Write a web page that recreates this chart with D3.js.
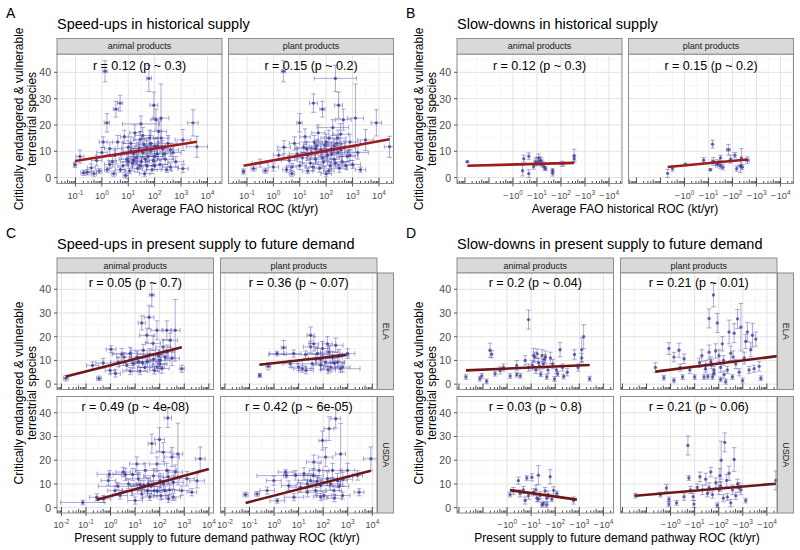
<!DOCTYPE html>
<meta charset="utf-8">
<style>
  body { margin: 0; background: #fff; }
  text { font-family: "Liberation Sans", Arial, sans-serif; }
</style>
<script src="https://d3js.org/d3.v7.min.js"></script>
<div id="chart"></div>
<script>
// ---------- data (x = log10 of |ROC| in kt/yr, y = species, dx = x half-error in decades, dy = y half-error) ----------
const yTicks = [0, 10, 20, 30, 40];
const yDomain = [-2.25, 46.85];
const products = ["animal products", "plant products"];
const sources = ["ELA", "USDA"];

const histUpAnimal = [[-1.02,4.9,.05,1],[-0.83,8,.15,2.5],[-0.7,1.8,.1,1],[-0.55,2,.1,1],[-0.4,3.7,.15,1.5],[-0.3,1.5,.1,1],[-0.2,6.5,.2,2],[-0.1,2.5,.1,1],[0,9.5,.2,2],[0.05,13.5,.15,2],[0.12,40.4,.08,4],[0.19,20.8,.1,3.5],[0.2,3,.1,1],[0.3,11,.2,2.5],[0.4,6,.15,2],[0.45,1.5,.1,1],[0.53,26,.1,3],[0.6,13.5,.2,2.5],[0.69,28.3,.1,3],[0.75,9,.25,2],[0.8,4.5,.2,1.5],[0.85,15.5,.15,2.5],[0.95,7,.3,2],[1,11.5,.25,2.5],[1.05,2.5,.2,1],[1.1,13,.3,2.5],[1.15,5.5,.2,1.5],[1.2,9,.35,2],[1.25,17,.2,3],[1.3,7.5,.3,2],[1.35,3.5,.2,1.5],[1.4,11,.3,2.5],[1.45,14.5,.25,3],[1.48,20.4,.7,3],[1.5,6,.3,2],[1.55,9.5,.35,2],[1.6,12.5,.3,2.5],[1.62,1.5,.2,1],[1.7,4.5,.3,1.5],[1.75,8,.4,2],[1.78,37.7,.1,5],[1.8,15,.3,3],[1.85,10.5,.35,2.5],[1.9,3,.2,1.5],[1.95,6.5,.3,2],[1.97,27.5,.15,5],[2,12,.4,3],[2.05,22,.2,4],[2.1,9,.3,2],[2.15,17.5,.3,4],[2.2,5,.3,2],[2.24,22.6,.3,13],[2.3,11,.4,3],[2.4,7,.3,2],[2.5,13,.35,3],[2.6,4,.3,1.5],[2.7,9.5,.3,2.5],[3.07,14.3,.3,4],[3.07,3.4,.2,1.5],[3.45,20.8,.2,5],[3.6,11.7,.4,4],[2.8,6,.3,2],[0.9,0.8,.1,1],[1.3,10,.3,2],[1.7,11.5,.3,2.5],[2.0,8,.3,2],[1.2,6.5,.3,1.5],[0.5,8.5,.2,2],[0.7,3,.2,1],[1.0,6,.3,1.5],[1.45,4.5,.3,1.5],[1.55,16,.3,3],[1.65,7,.3,2],[1.85,13,.3,3],[2.0,4.5,.3,1.5],[2.1,12,.3,3],[2.35,9,.3,2],[2.45,3,.2,1],[1.1,10,.3,2],[0.3,5,.2,1.5],[2.25,15,.3,3],[2.6,10.5,.3,2.5]];
const histUpPlant = [[-1.13,2.3,.05,1],[-0.75,3.4,.1,1],[-0.3,2.6,.1,1],[-0.5,5.5,.3,1.5],[0,4,.2,1.5],[0.2,8.5,.2,2],[0.38,40.4,.08,4],[0.4,11.5,.25,2.5],[0.5,3,.15,1],[0.6,6.5,.3,2],[0.7,1.5,.1,1],[0.8,13,.2,2.5],[0.9,9,.3,2],[0.99,20.8,.1,3.5],[1,4.5,.25,1.5],[1.1,7.5,.3,2],[1.2,15.5,.2,3],[1.25,11,.35,2.5],[1.3,2.5,.2,1],[1.4,5.5,.3,1.5],[1.45,9.5,.4,2],[1.52,28.3,.15,3.5],[1.55,13.5,.3,2.5],[1.6,7,.35,2],[1.7,17,.25,3],[1.75,3.5,.2,1.5],[1.8,10.5,.4,2.5],[1.86,26,.1,3],[1.9,6,.3,2],[1.95,12.5,.4,3],[2,1.5,.2,1],[2.05,8.5,.35,2],[2.1,15,.3,3],[2.15,4.5,.3,1.5],[2.2,11,.4,2.5],[2.25,19,.6,3],[2.3,7,.3,2],[2.35,37.7,.8,5],[2.4,13,.35,3],[2.45,9.5,.4,2],[2.47,27.5,.15,5],[2.5,3.5,.3,1.5],[2.55,16.5,.3,4],[2.6,6,.3,2],[2.65,22,.3,4],[2.7,11.5,.4,2.5],[2.8,8,.3,2],[2.9,13.5,.4,3],[3,5,.3,1.5],[3.11,22.6,.3,13],[3.2,9.5,.4,2.5],[3.3,3,.2,1],[3.49,14.3,.3,4],[3.9,20.8,.2,5],[4.4,11.7,.2,4],[2.0,10,.3,2],[2.3,12,.3,2.5],[1.6,11,.3,2],[1.3,8.5,.3,2],[1.5,4,.3,1.5],[1.65,12,.3,2.5],[1.85,7.5,.3,2],[2.0,13.5,.3,3],[2.2,9,.4,2],[2.35,5.5,.3,1.5],[2.55,10.5,.3,2.5],[2.75,4.5,.3,1.5],[2.9,8.5,.3,2],[1.15,11.5,.3,2],[0.7,4,.2,1.5],[2.1,2.5,.2,1],[2.45,15,.3,3]];
const histDownAnimal = [[-1.9,6,0,0.3],[0.4,2.6,0,2],[0.45,7.2,0,1.3],[0.66,8.1,0,1.3],[0.66,1.5,0,1.5],[0.86,4.2,0,1],[0.95,6,.08,1.5],[1.07,7.5,.1,1.5],[1.15,6.5,.1,1.2],[1.23,5,.08,1],[1.3,3.9,0,1],[1.36,3.4,0,.8],[1.65,1.6,0,1],[1.65,2.7,0,.8],[2.06,5.2,.1,1],[2.55,8.3,0,2.5],[2.55,7.2,0,1],[1.1,5.5,.1,1]];
const histDownPlant = [[-0.7,1.6,0,1.5],[-0.5,3.4,0,1],[0.04,5,0,.5],[0.8,6.6,0,1],[1.08,3,0,.4],[1.17,12.7,0,1.5],[1.2,6.2,.08,1.5],[1.37,5,.08,1],[1.5,7.5,0,1],[1.5,4.5,0,1],[1.6,3.9,0,1],[1.83,10.6,.08,2],[1.92,7,0,1.5],[2.17,3.4,0,1],[2.33,4.4,.1,2.5],[2.37,7.5,0,3.5],[2.62,6.6,.08,1.3],[2.4,3.9,0,1],[2.1,8.5,0,1],[1.4,5.8,0,1]];

const futUpElaAnimal = [[-1.82,2.5,.1,1.2],[-0.73,7.9,.25,1.5],[-0.47,2.4,.1,1],[-0.3,8.9,.3,2],[0.02,14.7,.2,1.5],[-0.02,5.8,.2,1.5],[0.31,9.3,.3,2],[0.46,12.6,.4,2.5],[0.55,11.4,.3,2],[0.66,7.9,.3,2],[0.8,13,.7,2.5],[0.92,8.7,.4,2],[1.07,11.4,.3,2.5],[1.27,25.8,.15,3],[1.33,14.3,.5,2.5],[1.48,20.6,.3,3],[1.57,28.2,.2,5],[1.68,37.6,.1,5],[1.73,17.2,.3,3],[1.78,5.8,.2,1.5],[1.89,22.7,.25,4],[2.02,10,.4,2.5],[2.09,6.6,.3,2],[2.14,15.7,.3,3],[2.22,11.4,.4,3],[2.29,22.7,.2,4],[2.43,18.5,.3,3],[2.5,10.9,.3,3],[2.63,22.7,.2,13],[2.9,6.5,.1,1.5],[1.2,5.5,.3,1.5],[1.4,7,.3,1.5],[1.5,9.5,.4,2],[1.9,7.3,.3,2],[1.95,12,.4,2.5],[1.3,9,.3,2],[0.2,4.5,.2,1.5],[0.8,5.5,.3,1.5],[1.15,9.5,.3,2],[1.6,12.5,.5,2.5],[2.3,13.5,.3,3],[1.75,10.5,.3,2.5],[2,8.5,.3,2]];
const futUpElaPlant = [[-0.58,3.7,.05,.8],[-0.23,7.5,.1,1.5],[0.12,12.9,.3,1],[0.39,15.4,.1,3],[0.66,8.6,.3,1.5],[0.8,12.9,.3,1.5],[1,7.2,.3,1.5],[1.15,6.5,.35,1.5],[1.28,12.5,1.5,1.5],[1.49,15.7,.3,2.5],[1.55,8.6,.4,2],[1.49,20.6,.15,3.5],[1.62,17,.2,3],[1.76,12.9,.4,2.5],[1.9,10.7,.5,2.5],[1.97,15,.3,3],[2.1,9.3,.4,2],[2.17,17,.2,3],[2.24,13.5,.35,2.5],[2.31,7.2,.3,2],[2.38,11.4,.4,2.5],[2.51,16.4,.3,3],[2.58,9.3,.3,2],[2.65,12.1,.4,2.5],[2.79,7.2,.3,2],[2.99,12.9,.3,2],[2.45,8.8,.4,2],[1.9,8,.3,2],[1.7,10.5,.3,2],[1.3,5.8,.3,1.5],[2.2,6,.3,1.5],[2.7,6.5,.8,1.5]];
const futUpUsdaAnimal = [[-1.13,2.2,.9,1],[-0.56,4.4,.3,1.5],[-0.29,3.7,.3,1.5],[-0.09,11.4,.3,2],[-0.05,14.1,.5,1.5],[0.18,7.2,.3,2],[0.39,5.1,.3,1.5],[0.52,15,.3,2],[0.6,14,.5,2.5],[0.73,10,.5,2],[0.87,7.2,.4,2],[1.07,18.4,.3,3],[1.13,12.2,.5,2.5],[1.27,5.8,.4,2],[1.41,15.7,.4,3],[1.54,10,.5,2.5],[1.68,27,.15,4],[1.75,13.4,.4,3],[1.78,7.2,.4,2],[1.89,18.4,.3,3],[1.99,28.7,.2,5],[2.02,11.4,.5,3],[2.15,23.4,.3,4],[2.22,7.2,.3,2],[2.29,15.7,.4,3],[2.33,37.8,.15,4],[2.36,3.7,.3,1.5],[2.5,21.3,.3,4],[2.56,10.7,.4,3],[2.63,15,.3,3],[2.74,22.6,.2,13],[2.9,7.2,.3,2],[3.11,12.2,.3,3],[3.31,6.5,.2,1.5],[3.52,11.3,.3,3],[3.65,20.6,.2,5],[0.9,14,.3,2.5],[1.2,9.5,.4,2],[1.5,7,.4,2],[1.6,4.5,.3,1.5],[1.9,7,.4,2],[2.05,5,.3,1.5],[2.4,7.5,.4,2],[2.55,4.5,.3,1.5],[1.65,9,.4,2],[1.35,9.5,.4,2],[2.15,10,.4,2.5],[2.35,13,.4,3],[0.3,9,.8,1.5],[1,3,.3,1.5]];
const futUpUsdaPlant = [[-1.16,5.5,.1,1],[-0.69,5.8,.1,1],[-0.28,7.2,.3,1.5],[-0.01,11.4,.3,2],[0.13,2.9,.3,1],[0.47,15,.3,1],[0.6,9.3,.3,2],[0.81,4.4,.4,1.5],[0.88,13.6,.5,2],[1.08,8.6,.5,2],[1.22,14.3,.4,2.5],[1.36,6.5,.4,2],[1.49,11.4,.5,2.5],[1.62,19.2,.3,3],[1.69,7.2,.4,2],[1.83,15.7,.4,3],[1.9,9.3,.5,2.5],[1.97,28.3,.15,4],[2.03,5.1,.3,1.5],[2.1,21.3,.3,4],[2.17,12.2,.4,3],[2.24,33.3,.2,5],[2.38,15.7,.4,3],[2.44,7.2,.3,2],[2.51,37.5,.2,4],[2.58,11.4,.4,3],[2.71,22.6,.2,13],[2.79,5.1,.3,1.5],[2.99,15.7,.3,3],[3.4,13.6,.2,2],[3.46,6.5,.2,1.5],[3.94,20.6,.3,5],[1.75,11,.4,2.5],[2.3,10,.4,2.5],[2.65,9,.4,2],[1.9,4.5,.3,1.5],[2.45,4,.3,1.5],[1.35,10,.4,2],[2.8,12,.4,3],[1.6,13.5,.4,3],[0.5,13.5,1.2,1]];

const futDownElaAnimal = [[-1.71,3,0,1],[-1.13,2.3,0,1],[-1.05,3.5,0,1],[-0.85,1.2,0,1],[-0.71,14.3,0,3],[-0.64,12.6,0,1.5],[-0.5,4.4,0,1],[-0.29,5.8,0,1.5],[-0.15,7,0,1.5],[0.13,3.4,0,1],[0.4,7.9,0,2],[0.4,4,0,1],[0.55,3.5,0,1],[0.75,10,0,2],[0.89,27.2,0,4],[0.89,7,0,1.5],[1.05,8,0,2],[1.1,12.1,0,3],[1.15,11.5,0,2],[1.2,6,0,1.5],[1.3,9,0,2],[1.4,4.2,0,1],[1.45,12,0,2.5],[1.5,8.5,0,2],[1.6,11.5,0,2.5],[1.65,3,0,1],[1.7,6,0,1.5],[1.8,11,0,2.5],[1.9,8.5,0,2],[1.97,2.2,0,1],[2.05,6,0,1.5],[2.1,4.3,0,1],[2.2,14.5,0,3],[2.3,7,0,1.5],[2.35,3.2,0,1],[2.5,5,0,1.5],[2.8,12.5,0,2],[3.1,14.5,0,5],[3.18,20,0,5],[3.1,11,0,2],[3.43,2.3,0,1],[2.95,7,0,1.5],[1.25,12.8,0,2],[1.55,10.5,0,2],[1.35,7.5,0,1.5]];
const futDownElaPlant = [[-0.63,7,0,2],[-0.28,2.7,0,1],[-0.07,15,0,2.5],[0.14,11.4,0,2],[0.14,1.6,0,1],[0.4,7,0,1.5],[0.35,14.3,0,3],[0.5,3,0,1],[0.56,10.7,0,2],[0.8,6,0,1.5],[1,3,0,1],[1.2,9,0,2],[1.3,12,0,2.5],[1.45,6.5,0,1.5],[1.55,3.2,0,1],[1.6,13.5,0,3],[1.7,8.5,0,2],[1.8,4.5,0,1],[1.6,27.7,0,4],[1.78,37.6,0,5],[1.94,25.8,0,4],[2.01,12,0,2.5],[2.08,7,0,2],[2.15,17,0,3],[2.22,4,0,1.5],[2.29,1,0,1],[2.43,22,0,5],[2.5,13,0,3],[2.64,21.5,0,4],[2.71,8.5,0,2],[2.78,27.5,0,4],[2.85,5,0,1.5],[2.92,24,0,10],[3.06,11,0,2.5],[3.12,18,0,3],[3.19,22,0,4],[3.26,6,0,1.5],[3.33,14.5,0,3],[3.4,20.6,0,5],[3.47,6.5,0,1.5],[3.54,19,0,3],[3.68,7.5,0,2],[3.75,2.5,0,1],[1.39,3,0,1],[1.46,8,0,2],[1.67,9.5,0,2],[1.8,6,0,1.5],[1.87,14,0,3],[1.74,3,0,1],[2.08,2,0,1],[2.36,6,0,1.5],[2.57,3,0,1],[2.99,1.5,0,1],[2.2,10,0,2],[2.6,11.5,0,2.5]];
const futDownUsdaAnimal = [[0.12,5.5,0,1],[0.26,7,0,1.5],[0.47,11.4,0,1.5],[0.54,6,0,1.5],[0.68,7.5,0,1.5],[0.75,3,0,1.5],[0.82,12.5,0,1],[0.89,5,0,1.5],[1.03,12.8,0,1.5],[1.1,6.5,0,1.5],[1.24,4,0,1.5],[1.3,13.7,0,4],[1.38,5.2,0,1.5],[1.51,1.7,0,1],[1.58,7,0,1.5],[1.65,4,0,1.5],[1.79,13,0,3],[1.86,3.5,0,1],[1.93,7.3,0,1.5],[2.07,6,0,1],[1.3,3.5,0,1],[1.45,1.2,0,1],[1.65,1.2,0,1],[2.76,3,0,1.5],[1.2,7.5,0,2],[1.7,5.5,0,1.5]];
const futDownUsdaPlant = [[-1.46,5.1,0,1],[-0.42,5.5,0,1],[-0.17,8.3,0,1.5],[-0.07,3.5,0,1],[-0.07,1.5,0,1],[0.25,2,0,1],[0.56,4.6,0,1.5],[0.72,26.2,0,4],[0.76,12.5,0,1],[0.83,7.5,0,1.5],[0.94,4.6,0,1.5],[0.97,1.5,0,1.5],[1.11,8.5,0,1.5],[1.22,13,0,2],[1.32,7.5,0,2],[1.46,12,0,2.5],[1.53,6,0,1.5],[1.67,15,0,2],[1.74,5.5,0,1.5],[1.88,10.5,0,2],[1.94,1,0,1],[2.01,7.5,0,2],[2.05,13.5,0,3],[2.1,20,0,8],[2.19,4,0,1.5],[2.25,27.5,0,4],[2.33,11.5,0,2.5],[2.43,14.5,0,3],[2.5,2,0,1.5],[2.57,7.5,0,2],[2.64,20.3,0,5],[2.71,5,0,1.5],[2.78,10,0,2],[2.92,7.5,0,2],[3.12,3,0,1],[4.375,11.5,0,4],[1.6,8.5,0,2],[2.08,9,0,2],[2.36,4.5,0,1.5],[2.85,8.5,0,2]];

// fitted regression lines: [x0 (log10), y0, x1 (log10), y1]
const histUpFits = [[-1.02,6.3,3.6,13.6],[-1.13,4.5,4.4,14.6]];
const histDownFits = [[-1.9,4.5,2.55,5.6],[-0.7,4.0,2.62,6.9]];
const futUpFits = [[-1.82,3.2,2.9,15.6],[-0.6,8.2,2.95,12.3],[-0.56,3.3,4.0,16.3],[-1.16,2.0,3.94,15.6]];
const futDownFits = [[-1.71,5.8,3.43,8.1],[-0.63,5.3,4.42,11.8],[0.12,7.4,2.9,3.4],[-1.46,5.0,4.375,10.1]];

const histUpNotes = ["r = 0.12 (p ~ 0.3)", "r = 0.15 (p ~ 0.2)"];
const histDownNotes = ["r = 0.12 (p ~ 0.3)", "r = 0.15 (p ~ 0.2)"];
const futUpNotes = ["r = 0.05 (p ~ 0.7)", "r = 0.36 (p ~ 0.07)", "r = 0.49 (p ~ 4e-08)", "r = 0.42 (p ~ 6e-05)"];
const futDownNotes = ["r = 0.2 (p ~ 0.04)", "r = 0.21 (p ~ 0.01)", "r = 0.03 (p ~ 0.8)", "r = 0.21 (p ~ 0.06)"];

const histUpExps = [-1, 0, 1, 2, 3, 4];
const futUpExps = [-2, -1, 0, 1, 2, 3, 4];
const downExps = [0, 1, 2, 3, 4];

const yTitle = ["Critically endangered & vulnerable", "terrestrial species"];
// ---------------------------------------------------------------------------

const svg = d3.select("#chart").append("svg")
    .attr("width", 800).attr("height", 550);
svg.append("rect").attr("width", 800).attr("height", 550).attr("fill", "#fff");

let clipId = 0;

function drawPanel(o) {
  const x = d3.scaleLog().domain([10 ** o.xd[0], 10 ** o.xd[1]]).range([o.left, o.left + o.w]);
  const y = d3.scaleLinear().domain(yDomain).range([o.top + o.h, o.top]);
  const g = svg.append("g");
  const bottom = o.top + o.h;

  g.append("rect").attr("x", o.left).attr("y", o.top).attr("width", o.w).attr("height", o.h).attr("fill", "#fff");

  // minor grid
  const minorX = d3.range(Math.floor(o.xd[0]) - 0.5, o.xd[1], 1).filter(e => e > o.xd[0] && e < o.xd[1]);
  g.selectAll(null).data(minorX).join("line")
    .attr("x1", e => x(10 ** e)).attr("x2", e => x(10 ** e))
    .attr("y1", o.top).attr("y2", bottom)
    .attr("stroke", "#f0f0f0").attr("stroke-width", 0.6);
  g.selectAll(null).data([5, 15, 25, 35, 45]).join("line")
    .attr("x1", o.left).attr("x2", o.left + o.w)
    .attr("y1", d => y(d)).attr("y2", d => y(d))
    .attr("stroke", "#f0f0f0").attr("stroke-width", 0.6);
  // major grid
  g.selectAll(null).data(o.exps).join("line")
    .attr("x1", e => x(10 ** e)).attr("x2", e => x(10 ** e))
    .attr("y1", o.top).attr("y2", bottom)
    .attr("stroke", "#e3e3e3").attr("stroke-width", 1);
  g.selectAll(null).data(yTicks).join("line")
    .attr("x1", o.left).attr("x2", o.left + o.w)
    .attr("y1", d => y(d)).attr("y2", d => y(d))
    .attr("stroke", "#e3e3e3").attr("stroke-width", 1);

  // clipped marks
  const id = "clip" + (clipId++);
  svg.append("clipPath").attr("id", id).append("rect")
    .attr("x", o.left).attr("y", o.top).attr("width", o.w).attr("height", o.h);
  const m = g.append("g").attr("clip-path", `url(#${id})`);
  const cap = 2.3;
  const eb = m.append("g").attr("stroke", "#4a45a6").attr("stroke-opacity", 0.45).attr("stroke-width", 1).attr("fill", "none");
  o.data.forEach(d => {
    const cx = x(10 ** d[0]), cy = y(d[1]);
    if (d[2] > 0) {
      const xa = x(10 ** (d[0] - d[2])), xb = x(10 ** (d[0] + d[2]));
      eb.append("line").attr("x1", xa).attr("x2", xb).attr("y1", cy).attr("y2", cy);
      eb.append("line").attr("x1", xa).attr("x2", xa).attr("y1", cy - cap).attr("y2", cy + cap);
      eb.append("line").attr("x1", xb).attr("x2", xb).attr("y1", cy - cap).attr("y2", cy + cap);
    }
    if (d[3] > 0) {
      const ya = y(d[1] - d[3]), yb = y(d[1] + d[3]);
      eb.append("line").attr("x1", cx).attr("x2", cx).attr("y1", ya).attr("y2", yb);
      eb.append("line").attr("x1", cx - cap).attr("x2", cx + cap).attr("y1", ya).attr("y2", ya);
      eb.append("line").attr("x1", cx - cap).attr("x2", cx + cap).attr("y1", yb).attr("y2", yb);
    }
  });
  m.append("g").selectAll("circle").data(o.data).join("circle")
    .attr("cx", d => x(10 ** d[0])).attr("cy", d => y(d[1])).attr("r", 1.7)
    .attr("fill", "#33308f").attr("fill-opacity", 0.7);
  m.append("line")
    .attr("x1", x(10 ** o.fit[0])).attr("y1", y(o.fit[1]))
    .attr("x2", x(10 ** o.fit[2])).attr("y2", y(o.fit[3]))
    .attr("stroke", o.fitColor).attr("stroke-width", 2.6).attr("stroke-linecap", "butt");

  // log ticks inside the bottom edge
  const lt = [];
  for (let dd = Math.floor(o.xd[0]); dd <= Math.ceil(o.xd[1]); dd++) {
    for (let k = 1; k <= 9; k++) {
      const e = dd + Math.log10(k);
      if (e >= o.xd[0] && e <= o.xd[1]) lt.push({ e, len: k === 1 ? 6 : (k === 5 ? 4 : 2.5) });
    }
  }
  g.selectAll(null).data(lt).join("line")
    .attr("x1", d => x(10 ** d.e)).attr("x2", d => x(10 ** d.e))
    .attr("y1", bottom).attr("y2", d => bottom - d.len)
    .attr("stroke", "#222").attr("stroke-width", 0.8);

  g.append("rect").attr("x", o.left).attr("y", o.top).attr("width", o.w).attr("height", o.h)
    .attr("fill", "none").attr("stroke", "#8c8c8c").attr("stroke-width", 1);

  // correlation note
  g.append("text").attr("x", o.left + o.w / 2).attr("y", y(42.5))
    .attr("text-anchor", "middle").attr("dominant-baseline", "central")
    .attr("font-size", 12.5).attr("fill", "#000").text(o.note);

  // y axis
  if (o.yAxis) {
    g.selectAll(null).data(yTicks).join("line")
      .attr("x1", o.left - 3).attr("x2", o.left).attr("y1", d => y(d)).attr("y2", d => y(d))
      .attr("stroke", "#333").attr("stroke-width", 0.8);
    g.selectAll(null).data(yTicks).join("text")
      .attr("x", o.left - 6).attr("y", d => y(d))
      .attr("text-anchor", "end").attr("dominant-baseline", "central")
      .attr("font-size", 10.5).attr("fill", "#4d4d4d").text(d => d);
  }
  // x axis
  if (o.xAxis) {
    g.selectAll(null).data(o.exps).join("line")
      .attr("x1", e => x(10 ** e)).attr("x2", e => x(10 ** e))
      .attr("y1", bottom).attr("y2", bottom + 3)
      .attr("stroke", "#333").attr("stroke-width", 0.8);
    const lab = g.selectAll(null).data(o.exps).join("text")
      .attr("x", e => x(10 ** e)).attr("y", bottom + 15)
      .attr("text-anchor", "middle").attr("fill", "#4d4d4d").attr("font-size", 9.2);
    lab.append("tspan").text(o.neg ? "\u2212\u200a10" : "10");
    lab.append("tspan").attr("dy", -4).attr("font-size", 6.5).text(e => e < 0 ? "-" + (-e) : e);
  }
}

function strip(x0, y0, w, h, label, vertical) {
  svg.append("rect").attr("x", x0).attr("y", y0).attr("width", w).attr("height", h)
    .attr("fill", "#d9d9d9").attr("stroke", "#8c8c8c").attr("stroke-width", 1);
  const t = svg.append("text").attr("font-size", 9).attr("fill", "#1a1a1a")
    .attr("text-anchor", "middle").attr("dominant-baseline", "central").text(label);
  if (vertical) t.attr("transform", `translate(${x0 + w / 2},${y0 + h / 2}) rotate(90)`);
  else t.attr("x", x0 + w / 2).attr("y", y0 + h / 2);
}

function heading(letter, title, x0, y0) {
  svg.append("text").attr("x", x0 + 6).attr("y", y0 + 18).attr("font-size", 14).attr("fill", "#000").text(letter);
  svg.append("text").attr("x", x0 + 57).attr("y", y0 + 29).attr("font-size", 14.5).attr("fill", "#000").text(title);
}

function axisTitles(xText, x0, xc, xy, yc) {
  svg.append("text").attr("x", xc).attr("y", xy).attr("text-anchor", "middle")
    .attr("font-size", 12).attr("fill", "#000").text(xText);
  yTitle.forEach((t, i) => {
    svg.append("text").attr("transform", `translate(${x0 + 27 + i * 13},${yc}) rotate(-90)`)
      .attr("text-anchor", "middle").attr("font-size", 12).attr("fill", "#000").text(t);
  });
}

// ---- blocks A and B (historical supply) ----
const histBlocks = [
  { ox: 0, letter: "A", title: "Speed-ups in historical supply", data: [histUpAnimal, histUpPlant], fits: histUpFits, notes: histUpNotes, xd: [-1.7, 4.55], exps: histUpExps, neg: false, color: "#9e1b20" },
  { ox: 400, letter: "B", title: "Slow-downs in historical supply", data: [histDownAnimal, histDownPlant], fits: histDownFits, notes: histDownNotes, xd: [-2.33, 4.54], exps: downExps, neg: true, color: "#9e1b20" }
];
histBlocks.forEach(b => {
  heading(b.letter, b.title, b.ox, 0);
  const top = 54.3, h = 129.2, w = 165;
  [57, 228.5].forEach((l, i) => {
    strip(b.ox + l, 38.5, w, top - 38.5, products[i], false);
    drawPanel({ left: b.ox + l, top, w, h, xd: b.xd, exps: b.exps, neg: b.neg, data: b.data[i], fit: b.fits[i],
      note: b.notes[i], fitColor: b.color, yAxis: i === 0, xAxis: true });
  });
  axisTitles("Average FAO historical ROC (kt/yr)", b.ox - 4, b.ox + 225, 213, top + h / 2);
});

// ---- blocks C and D (present supply to future demand) ----
const futBlocks = [
  { ox: 0, letter: "C", title: "Speed-ups in present supply to future demand", data: [futUpElaAnimal, futUpElaPlant, futUpUsdaAnimal, futUpUsdaPlant], fits: futUpFits, notes: futUpNotes, xd: [-2.18, 4.19], exps: futUpExps, neg: false, color: "#6e1718" },
  { ox: 400, letter: "D", title: "Slow-downs in present supply to future demand", data: [futDownElaAnimal, futDownElaPlant, futDownUsdaAnimal, futDownUsdaPlant], fits: futDownFits, notes: futDownNotes, xd: [-2.08, 4.42], exps: downExps, neg: true, color: "#6e1718" }
];
futBlocks.forEach(b => {
  heading(b.letter, b.title, b.ox, 220);
  const tops = [273, 396.5], h = 116.5, w = 156.5, lefts = [57, 220.5];
  lefts.forEach((l, i) => strip(b.ox + l, 258, w, 15, products[i], false));
  tops.forEach((t, r) => {
    strip(b.ox + 377.5, t, 16, h, sources[r], true);
    lefts.forEach((l, i) => {
      const k = r * 2 + i;
      drawPanel({ left: b.ox + l, top: t, w, h, xd: b.xd, exps: b.exps, neg: b.neg, data: b.data[k], fit: b.fits[k],
        note: b.notes[k], fitColor: b.color, yAxis: i === 0, xAxis: r === 1 });
    });
  });
  axisTitles("Present supply to future demand pathway ROC (kt/yr)", b.ox - 4, b.ox + 217, 541.5, (273 + 513) / 2);
});
</script>
